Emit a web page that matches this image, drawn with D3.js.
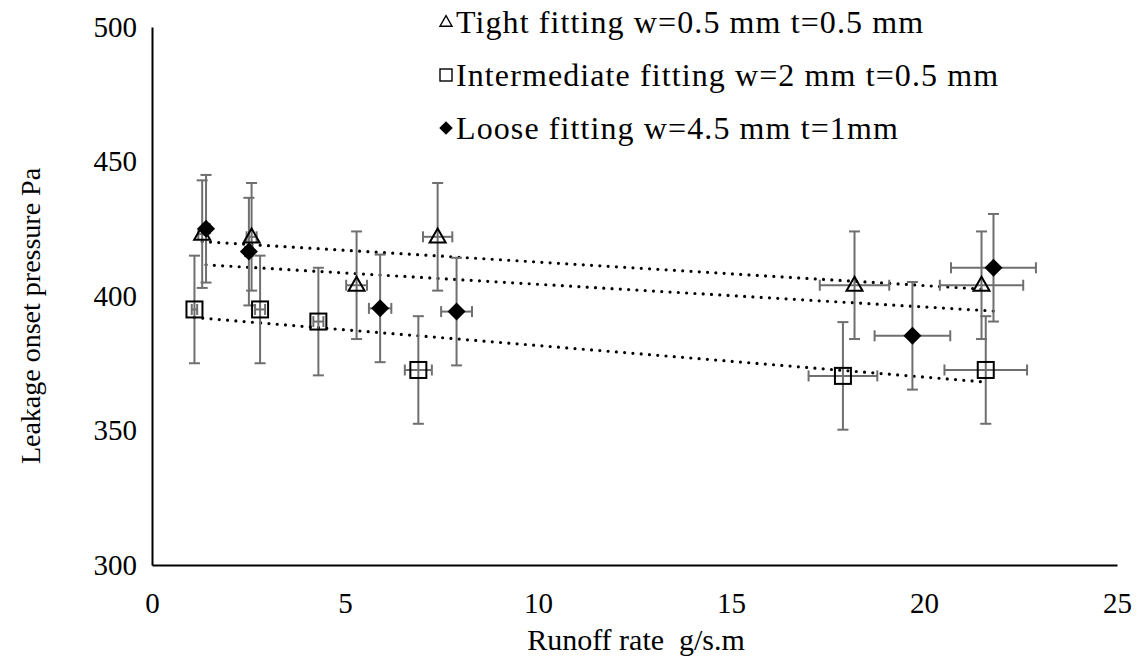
<!DOCTYPE html>
<html><head><meta charset="utf-8">
<script src="https://cdnjs.cloudflare.com/ajax/libs/d3/7.8.5/d3.min.js"></script>
<style>
html,body{margin:0;padding:0;background:#fff;}
svg text{font-family:"Liberation Serif","DejaVu Serif","Times New Roman",serif;fill:#000;white-space:pre;}
</style></head>
<body><svg id="chart" width="1137" height="660"></svg>
<script>
// ---- data ----
const seriesNames = ["Tight fitting w=0.5 mm t=0.5 mm", "Intermediate fitting w=2 mm t=0.5 mm", "Loose fitting w=4.5 mm t=1mm"];
const tightX = [1.3, 2.58, 5.3, 7.4, 18.2, 21.49];
const tightY = [423, 422, 404, 422, 404, 404];
const tightXErr = [0.1, 0.13, 0.27, 0.38, 0.9, 1.08];
const tightYErr = [20, 20, 20, 20, 20, 20];
const interX = [1.1, 2.8, 4.31, 6.9, 17.9, 21.6];
const interY = [395, 395, 390.5, 372.5, 370.3, 372.5];
const interXErr = [0.07, 0.13, 0.13, 0.35, 0.89, 1.07];
const interYErr = [20, 20, 20, 20, 20, 20];
const looseX = [1.4, 2.51, 5.91, 7.89, 19.7, 21.8];
const looseY = [425, 416.5, 395.4, 394.2, 385.2, 410.5];
const looseXErr = [0.1, 0.1, 0.29, 0.4, 0.98, 1.1];
const looseYErr = [20, 20, 20, 20, 20, 20];
const xTicks = [0, 5, 10, 15, 20, 25];
const yTicks = [300, 350, 400, 450, 500];
const xTitle = "Runoff rate  g/s.m";
const yTitle = "Leakage onset pressure Pa";

const series = [
  {name: seriesNames[0], x: tightX, y: tightY, xe: tightXErr, ye: tightYErr, sym: "triangle"},
  {name: seriesNames[1], x: interX, y: interY, xe: interXErr, ye: interYErr, sym: "square"},
  {name: seriesNames[2], x: looseX, y: looseY, xe: looseXErr, ye: looseYErr, sym: "diamond"}
];

const FONT = '"Liberation Serif","DejaVu Serif","Times New Roman",serif';
const svg = d3.select("#chart");
const x = d3.scaleLinear().domain([0, 25]).range([152, 1117]);
const y = d3.scaleLinear().domain([300, 500]).range([565, 27]);
const fs = 29;

// axes
const xAxis = svg.append("g").attr("transform", "translate(0,565)")
  .call(d3.axisBottom(x).tickValues(xTicks).tickSize(0).tickPadding(27).tickFormat(d3.format("d")));
const yAxis = svg.append("g").attr("transform", "translate(152,0)")
  .call(d3.axisLeft(y).tickValues(yTicks).tickSize(0).tickPadding(15).tickFormat(d3.format("d")));
[xAxis, yAxis].forEach(a => {
  a.attr("font-family", FONT).attr("font-size", fs);
  a.select(".domain").attr("stroke", "#000").attr("stroke-width", 2);
  a.selectAll("text").attr("font-size", fs).style("font-family", FONT);
});

svg.append("text").attr("x", 636).attr("y", 650).attr("text-anchor", "middle")
  .attr("font-size", 30).style("font-family", FONT).text(xTitle);
svg.append("text").attr("transform", "translate(40,316) rotate(-90)").attr("text-anchor", "middle")
  .attr("font-size", 28).style("font-family", FONT).text(yTitle);

// trendlines (least squares from data)
series.forEach(s => {
  const pts = s.x.map((v, i) => [v, s.y[i]]);
  const mx = d3.mean(s.x), my = d3.mean(s.y);
  const sxy = d3.sum(pts, p => (p[0] - mx) * (p[1] - my));
  const sxx = d3.sum(s.x, v => (v - mx) * (v - mx));
  const b = sxy / sxx, a = my - b * mx;
  const [x0, x1] = d3.extent(s.x);
  svg.append("line")
    .attr("x1", x(x0)).attr("y1", y(a + b * x0))
    .attr("x2", x(x1)).attr("y2", y(a + b * x1))
    .attr("stroke", "#000").attr("stroke-width", 3.2)
    .attr("stroke-linecap", "round").attr("stroke-dasharray", "0 8.3");
});

// error bars
const ebColor = "#6f6f6f", cap = 5.5;
series.forEach(s => {
  const g = svg.append("g").attr("stroke", ebColor).attr("stroke-width", 2).attr("fill", "none");
  s.x.forEach((xv, i) => {
    const yv = s.y[i], px = x(xv), py = y(yv);
    const yt = y(yv + s.ye[i]), yb = y(yv - s.ye[i]);
    const xl = x(xv - s.xe[i]), xr = x(xv + s.xe[i]);
    g.append("line").attr("x1", px).attr("x2", px).attr("y1", yt).attr("y2", yb);
    g.append("line").attr("x1", px - cap).attr("x2", px + cap).attr("y1", yt).attr("y2", yt);
    g.append("line").attr("x1", px - cap).attr("x2", px + cap).attr("y1", yb).attr("y2", yb);
    g.append("line").attr("x1", xl).attr("x2", xr).attr("y1", py).attr("y2", py);
    g.append("line").attr("x1", xl).attr("x2", xl).attr("y1", py - cap).attr("y2", py + cap);
    g.append("line").attr("x1", xr).attr("x2", xr).attr("y1", py - cap).attr("y2", py + cap);
  });
});

// markers
function marker(g, sym, px, py, sc) {
  const sw = sc < 1 ? 1.4 : 2;
  if (sym === "triangle") {
    const w = 8 * sc, h = 14 * sc;
    g.append("path").attr("d", `M${px},${py - h * 0.6}L${px + w},${py + h * 0.4}L${px - w},${py + h * 0.4}Z`)
      .attr("fill", "none").attr("stroke", "#000").attr("stroke-width", sw);
  } else if (sym === "square") {
    const r = 8 * sc;
    g.append("rect").attr("x", px - r).attr("y", py - r).attr("width", 2 * r).attr("height", 2 * r)
      .attr("fill", "none").attr("stroke", "#000").attr("stroke-width", sw);
  } else {
    const r = 9 * sc;
    g.append("path").attr("d", `M${px},${py - r}L${px + r},${py}L${px},${py + r}L${px - r},${py}Z`)
      .attr("fill", "#000");
  }
}
series.forEach(s => {
  const g = svg.append("g");
  s.x.forEach((xv, i) => marker(g, s.sym, x(xv), y(s.y[i]), 1));
});

// legend
const lg = svg.append("g");
const legY = [22, 75, 128];
series.forEach((s, i) => {
  marker(lg, s.sym, 446, legY[i], 0.75);
  lg.append("text").attr("x", 456).attr("y", legY[i] + 11).attr("font-size", 32)
    .attr("letter-spacing", 1.1).style("font-family", FONT).text(s.name);
});
</script></body></html>
